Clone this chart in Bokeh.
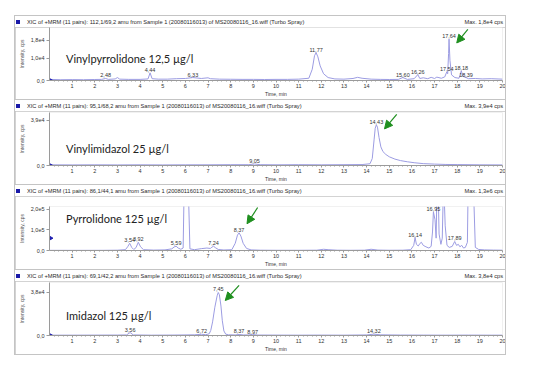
import numpy as np
from bokeh.plotting import figure
from bokeh.layouts import column, row
from bokeh.models import (Range1d, FixedTicker, Label, LabelSet, ColumnDataSource,
                          Arrow, NormalHead, Div, Spacer)
from bokeh.core.properties import value
from bokeh.embed import file_html
from bokeh.resources import INLINE

# ---------------- data ----------------
X_TICKS = list(range(1, 21))

# Panel 1: Vinylpyrrolidone
VP_T = [0.0, 0.5, 1.0, 1.5, 2.0, 2.3, 2.48, 2.6, 2.9, 3.0, 3.1, 3.5, 4.0, 4.35, 4.44, 4.53, 4.8, 5.2, 5.6, 6.0,
        6.33, 6.7, 7.0, 7.1, 7.5, 8.0, 8.5, 9.0, 9.5, 10.0, 10.5, 11.0, 11.45, 11.6, 11.7, 11.77, 11.85, 11.95,
        12.1, 12.3, 12.6, 13.0, 13.4, 13.6, 13.8, 14.2, 14.6, 15.0, 15.4, 15.6, 15.8, 16.1, 16.26, 16.35, 16.5,
        16.7, 16.85, 17.0, 17.1, 17.3, 17.45, 17.54, 17.58, 17.62, 17.64, 17.68, 17.75, 17.9, 18.08, 18.18,
        18.26, 18.39, 18.5, 18.8, 19.1, 19.5, 20.0]
VP_I = [500, 350, 400, 350, 450, 500, 900, 500, 700, 1300, 600, 500, 500, 700, 3400, 800, 600, 600, 800, 900,
        1300, 900, 1200, 800, 600, 550, 500, 500, 450, 500, 500, 600, 1000, 5000, 11000, 12400, 10500, 6500,
        3000, 1300, 700, 600, 900, 1400, 1000, 600, 500, 450, 500, 1300, 500, 800, 2600, 900, 1200,
        800, 1400, 900, 1500, 1000, 1600, 3800, 3000, 12000, 18400, 9000, 2500, 1300, 1000, 4300,
        1800, 1300, 800, 900, 700, 800, 600]
VP_PEAK_T = [2.48, 4.44, 6.33, 11.77, 15.60, 16.26, 17.54, 17.64, 18.18, 18.39]
VP_PEAK_I = [900, 3400, 1300, 12400, 1300, 2600, 3800, 18400, 4300, 1300]
VP_YTICKS = [0, 10000, 18000]
VP_YLABELS = ["0,0", "1,0e4", "1,8e4"]

# Panel 2: Vinylimidazol
VI_T = [0.0, 1.0, 2.0, 3.0, 4.0, 5.0, 6.0, 7.0, 8.0, 8.8, 9.05, 9.3, 10.0, 11.0, 12.0, 13.0, 13.8, 14.15,
        14.25, 14.33, 14.38, 14.43, 14.48, 14.55, 14.63, 14.72, 14.85, 15.0, 15.25, 15.5, 15.8, 16.1, 16.5,
        17.0, 17.5, 18.0, 19.0, 20.0]
VI_I = [600, 500, 600, 500, 600, 500, 600, 600, 700, 700, 1300, 700, 600, 700, 600, 700, 800, 1500,
        6000, 22000, 32000, 35000, 33000, 24000, 16000, 12000, 9500, 7500, 5500, 4200, 3200, 2400, 1600,
        1200, 900, 800, 600, 500]
VI_PEAK_T = [9.05, 14.43]
VI_PEAK_I = [1300, 35000]
VI_YTICKS = [0, 39000]
VI_YLABELS = ["0,0", "3,9e4"]

# Panel 3: Pyrrolidone
PY_T = [0.0, 0.8, 1.6, 2.4, 3.0, 3.35, 3.45, 3.54, 3.63, 3.72, 3.82, 3.92, 4.02, 4.15, 4.6, 5.1, 5.4, 5.5,
        5.59, 5.68, 5.8, 5.9, 5.96, 6.04, 6.13, 6.2, 6.4, 6.7, 6.95, 7.1, 7.17, 7.24, 7.32, 7.45, 7.7, 8.05,
        8.2, 8.3, 8.37, 8.45, 8.55, 8.7, 8.9, 9.3, 10.0, 11.0, 11.8, 12.1, 12.3, 12.7, 13.3, 13.9, 14.2, 14.5,
        15.0, 15.6, 15.95, 16.08, 16.14, 16.2, 16.28, 16.36, 16.42, 16.5, 16.62, 16.75, 16.85, 16.91, 16.95,
        17.02, 17.07, 17.13, 17.2, 17.28, 17.34, 17.4, 17.47, 17.55, 17.65, 17.78, 17.89, 17.97, 18.05,
        18.12, 18.2, 18.28, 18.36, 18.45, 18.52, 18.62, 18.72, 18.8, 18.95, 19.2, 19.6, 20.0]
PY_I = [800, 700, 700, 900, 1500, 4000, 18000, 35000, 15000, 5000, 14000, 40000, 18000, 4000, 2000, 3000,
        8000, 17000, 21000, 12000, 6000, 12000, 400000, 900000, 300000, 8000, 4000, 9000, 12000, 10000,
        16000, 21000, 14000, 5000, 2500, 4000, 35000, 75000, 86000, 70000, 35000, 10000, 3000, 1500, 1000,
        1000, 1500, 6000, 4000, 1500, 1000, 1500, 6000, 2000, 1200, 1500, 4000, 25000, 63000, 30000, 22000,
        35000, 40000, 25000, 18000, 12000, 20000, 90000, 188000, 150000, 60000, 450000, 80000, 30000,
        60000, 350000, 120000, 25000, 15000, 20000, 44000, 25000, 30000, 18000, 25000, 12000, 15000,
        40000, 600000, 1300000, 300000, 15000, 5000, 3000, 2000, 1500]
PY_PEAK_T = [3.54, 3.92, 5.59, 7.24, 8.37, 16.14, 16.95, 17.89]
PY_PEAK_I = [35000, 40000, 21000, 21000, 86000, 63000, 188000, 44000]
PY_YTICKS = [0, 100000, 200000]
PY_YLABELS = ["0,0", "1,0e5", "2,0e5"]

# Panel 4: Imidazol
IM_T = [0.0, 1.0, 2.0, 3.0, 3.4, 3.56, 3.7, 4.5, 5.5, 6.4, 6.72, 6.9, 7.05, 7.12, 7.2, 7.3, 7.4, 7.45, 7.5,
        7.57, 7.63, 7.7, 7.78, 7.9, 8.2, 8.37, 8.55, 8.8, 8.97, 9.2, 10.0, 11.0, 12.0, 13.0, 14.0, 14.32, 14.6,
        15.5, 16.5, 17.5, 18.5, 19.5, 20.0]
IM_I = [300, 300, 350, 400, 500, 2600, 500, 300, 400, 600, 1100, 700, 1500, 4500, 12000, 25000, 35000,
        38000, 36000, 26000, 13000, 4000, 1200, 600, 500, 900, 500, 500, 800, 400, 350, 300, 350, 300, 500,
        1200, 600, 400, 350, 300, 350, 300, 300]
IM_PEAK_T = [3.56, 6.72, 7.45, 8.37, 8.97, 14.32]
IM_PEAK_I = [2600, 1100, 38000, 900, 800, 1200]
IM_YTICKS = [0, 38000]
IM_YLABELS = ["0,0", "3,8e4"]

HEADERS = [
    "XIC of +MRM (11 pairs): 112,1/69,2 amu from Sample 1 (20080116013) of MS20080116_16.wiff (Turbo Spray)",
    "XIC of +MRM (11 pairs): 95,1/68,2 amu from Sample 1 (20080116013) of MS20080116_16.wiff (Turbo Spray)",
    "XIC of +MRM (11 pairs): 86,1/44,1 amu from Sample 1 (20080116013) of MS20080116_16.wiff (Turbo Spray)",
    "XIC of +MRM (11 pairs): 69,1/42,2 amu from Sample 1 (20080116013) of MS20080116_16.wiff (Turbo Spray)",
]
MAX_TEXT = ["Max. 1,8e4 cps", "Max. 3,9e4 cps", "Max. 1,3e6 cps", "Max. 3,8e4 cps"]
NAMES = ["Vinylpyrrolidone 12,5 µg/l", "Vinylimidazol 25 µg/l", "Pyrrolidone 125 µg/l", "Imidazol 125 µg/l"]
# arrows pointing at the analyte peak (tail time, tail cps, head time, head cps)
ARROWS = [(18.47, 22700, 17.98, 16700), (15.33, 44000, 14.79, 31500),
          (9.19, 209000, 8.72, 130000), (8.37, 44200, 7.76, 30900)]
THRESH = [0, 0, 60000, 0]

# ---------------- style ----------------
TRACE = "#9c9ce2"
GREEN = "#1f8f1f"
AXC = "#9a9a9a"
TXT = "#333333"
SMALL = "Liberation Sans"
GRAY = "#c4c4c4"
W = 490


def fmt(t):
    return ("%.2f" % t).replace(".", ",")


def header_div(text, maxtxt):
    html = (
        '<div style="position:relative;width:%dpx;height:11px;overflow:hidden;'
        'font-family:\'Liberation Sans\';font-size:5.7px;line-height:6px;color:#2a2a2a;white-space:nowrap;">'
        '<span style="position:absolute;left:1px;top:3px;width:4px;height:4px;background:#1a1aa8;"></span>'
        '<span style="position:absolute;left:12px;top:2px;">%s</span>'
        '<span style="position:absolute;right:2px;top:2px;">%s</span></div>' % (W, text, maxtxt)
    )
    return Div(text=html, width=W, height=11, margin=0,
               styles={"background-color": "white", "margin": "0", "padding": "0"})


def panel(T, I, pk_t, pk_i, yt, yl, y_end, height, bt, bb, name, name_y, arrow, thr):
    p = figure(width=W, height=height, x_range=Range1d(0, 20), y_range=Range1d(0, y_end),
               output_backend="svg", toolbar_location=None,
               min_border_left=28, min_border_right=3, min_border_top=bt, min_border_bottom=bb)
    p.outline_line_color = None
    p.grid.visible = False
    p.background_fill_color = "white"
    p.border_fill_color = "white"

    p.line(T, I, line_color=TRACE, line_width=1)
    p.scatter([0], [thr], marker="triangle", angle=-np.pi / 2, size=6,
              fill_color="#2020b0", line_color="#2020b0")

    src = ColumnDataSource(dict(x=pk_t, y=pk_i, t=[fmt(v) for v in pk_t]))
    p.add_layout(LabelSet(x="x", y="y", text="t", source=src, text_font=value(SMALL),
                          text_font_size="5.5px", text_color=TXT, text_align="center",
                          text_baseline="bottom", y_offset=1))

    xa = p.xaxis[0]
    xa.ticker = FixedTicker(ticks=X_TICKS, minor_ticks=list(np.arange(0.2, 20.0, 0.2)))
    xa.axis_line_color = AXC
    xa.major_tick_line_color = AXC
    xa.minor_tick_line_color = AXC
    xa.major_tick_in = 0
    xa.major_tick_out = 2
    xa.minor_tick_in = 0
    xa.minor_tick_out = 1
    xa.major_label_standoff = 1
    xa.major_label_text_font = SMALL
    xa.major_label_text_font_size = "5.5px"
    xa.major_label_text_color = TXT
    xa.axis_label = "Time, min"
    xa.axis_label_standoff = 0
    xa.axis_label_text_font = SMALL
    xa.axis_label_text_font_size = "5px"
    xa.axis_label_text_font_style = "normal"
    xa.axis_label_text_color = TXT

    ya = p.yaxis[0]
    ya.ticker = FixedTicker(ticks=yt, minor_ticks=[])
    ya.major_label_overrides = {k: v for k, v in zip(yt, yl)}
    ya.axis_line_color = AXC
    ya.major_tick_line_color = AXC
    ya.major_tick_in = 0
    ya.major_tick_out = 3
    ya.major_label_standoff = 2
    ya.major_label_text_font = SMALL
    ya.major_label_text_font_size = "5.5px"
    ya.major_label_text_color = TXT
    ya.axis_label = "Intensity, cps"
    ya.axis_label_standoff = 3
    ya.axis_label_text_font = SMALL
    ya.axis_label_text_font_size = "5px"
    ya.axis_label_text_font_style = "normal"
    ya.axis_label_text_color = "#555555"

    p.add_layout(Label(x=0.73, y=name_y, x_units="data", y_units="screen", text=name,
                       text_font="Lato", text_font_size="11px", text_color="#222222",
                       text_align="left", text_baseline="middle"))
    xs, ys, xe, ye = arrow
    p.add_layout(Arrow(end=NormalHead(size=8, fill_color=GREEN, line_color=GREEN),
                       x_start=xs, y_start=ys, x_end=xe, y_end=ye,
                       line_color=GREEN, line_width=1.2))
    return p


p1 = panel(VP_T, VP_I, VP_PEAK_T, VP_PEAK_I, VP_YTICKS, VP_YLABELS, 23570, 72, 0, 17,
           NAMES[0], 22, ARROWS[0], THRESH[0])
p2 = panel(VI_T, VI_I, VI_PEAK_T, VI_PEAK_I, VI_YTICKS, VI_YLABELS, 45600, 73, 1, 17,
           NAMES[1], 17, ARROWS[1], THRESH[1])
p3 = panel(PY_T, PY_I, PY_PEAK_T, PY_PEAK_I, PY_YTICKS, PY_YLABELS, 214000, 73, 10, 17,
           NAMES[2], 32, ARROWS[2], THRESH[2])
p4 = panel(IM_T, IM_I, IM_PEAK_T, IM_PEAK_I, IM_YTICKS, IM_YLABELS, 46800, 73, 1, 19,
           NAMES[3], 20, ARROWS[3], THRESH[3])

blocks = [column(header_div(h, m), p, spacing=0)
          for h, m, p in zip(HEADERS, MAX_TEXT, [p1, p2, p3, p4])]
box = column(*blocks, spacing=1,
             styles={"border": "1px solid %s" % GRAY, "background-color": GRAY})
layout = column(Spacer(height=15), row(Spacer(width=14), box, spacing=0), spacing=0)

open("out.html", "w").write(file_html(layout, INLINE))
